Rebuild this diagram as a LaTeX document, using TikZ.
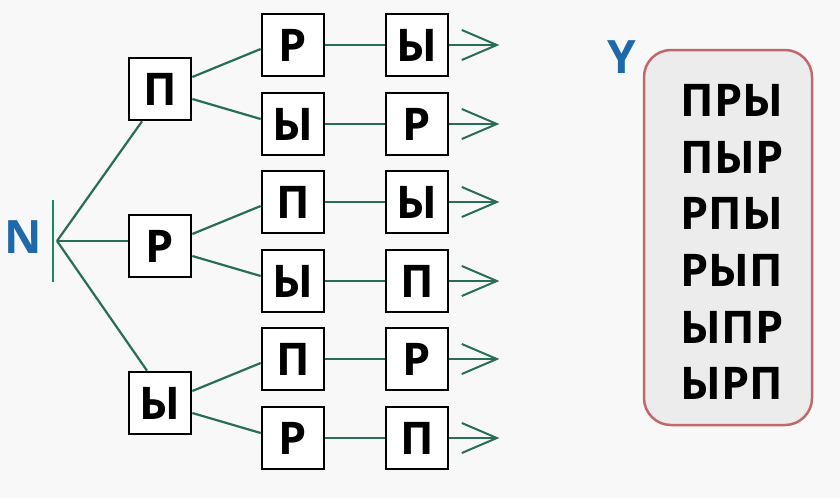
\documentclass[tikz,border=0pt]{standalone}
\usepackage{fontspec}
\setmainfont{Open Sans}
\usetikzlibrary{arrows.meta}
\definecolor{edgegreen}{RGB}{40,110,85}
\definecolor{tickgreen}{RGB}{20,140,95}
\definecolor{lblue}{RGB}{30,105,170}
\definecolor{boxred}{RGB}{192,104,106}
\definecolor{boxfill}{RGB}{236,236,236}
\definecolor{bg}{RGB}{248,248,248}
\tikzset{
  letterbox/.style={draw=black, line width=2.7pt, fill=white, minimum size=62pt, inner sep=0pt, font=\fontsize{45}{45}\selectfont\bfseries},
  conn/.style={draw=edgegreen, line width=2.2pt},
  outarrow/.style={draw=edgegreen, line width=2.2pt, -{Straight Barb[length=35pt,width=30pt,line width=2pt]}},
  varlabel/.style={text=lblue, font=\fontsize{46}{46}\selectfont\bfseries},
  resultline/.style={font=\fontsize{45}{45}\selectfont\bfseries, inner sep=0pt}
}
\begin{document}
\begin{tikzpicture}[x=1pt,y=-1pt]
\fill[bg] (0,0) rectangle (840,498);
\useasboundingbox (0,0) rectangle (840,498);
% N
\node[varlabel] (nlab) at (23,237) {N};
\coordinate (root) at (57,241);
\coordinate (tickt) at (53,200);
\coordinate (tickb) at (53,282);
\draw[draw=tickgreen, line width=2.5pt] (tickt) -- (tickb);
% level 1
\node[letterbox] (p1) at (160,89) {П};
\node[letterbox] (r1) at (160,246) {Р};
\node[letterbox] (y1) at (160,403) {Ы};
% level 2
\node[letterbox] (a1) at (293,45) {Р};
\node[letterbox] (a2) at (293,124) {Ы};
\node[letterbox] (a3) at (293,202) {П};
\node[letterbox] (a4) at (293,281) {Ы};
\node[letterbox] (a5) at (293,359) {П};
\node[letterbox] (a6) at (293,438) {Р};
% level 3
\node[letterbox] (b1) at (417,45) {Ы};
\node[letterbox] (b2) at (417,124) {Р};
\node[letterbox] (b3) at (417,202) {Ы};
\node[letterbox] (b4) at (417,281) {П};
\node[letterbox] (b5) at (417,359) {Р};
\node[letterbox] (b6) at (417,438) {П};
% arrow tips
\foreach \i in {1,...,6} {
  \coordinate (t\i) at ([xshift=50pt]b\i.east);
}
% root edges
\draw[conn] (root) -- ([xshift=-18pt]p1.south);
\draw[conn] (root) -- ([yshift=5pt]r1.west);
\draw[conn] (root) -- ([xshift=-13pt]y1.north);
% level1 -> level2
\draw[conn] ([yshift=12pt]p1.east) -- ([yshift=-4pt]a1.west);
\draw[conn] ([yshift=-10pt]p1.east) -- ([yshift=5pt]a2.west);
\draw[conn] ([yshift=12pt]r1.east) -- ([yshift=-4pt]a3.west);
\draw[conn] ([yshift=-10pt]r1.east) -- ([yshift=5pt]a4.west);
\draw[conn] ([yshift=12pt]y1.east) -- ([yshift=-4pt]a5.west);
\draw[conn] ([yshift=-10pt]y1.east) -- ([yshift=5pt]a6.west);
% level2 -> level3
\foreach \i in {1,...,6} {
  \draw[conn] (a\i.east) -- (b\i.west);
  \draw[outarrow] (b\i.east) -- (t\i);
}
% Y result box
\node[varlabel] (ylab) at (622,57) {Y};
\node[draw=boxred, line width=2.5pt, fill=boxfill, rounded corners=27pt, minimum width=168pt, minimum height=375pt] (res) at (728,237.5) {};
\node[resultline] (w1) at (732,100) {ПРЫ};
\node[resultline] (w2) at (732,157) {ПЫР};
\node[resultline] (w3) at (732,213) {РПЫ};
\node[resultline] (w4) at (732,270) {РЫП};
\node[resultline] (w5) at (732,327) {ЫПР};
\node[resultline] (w6) at (732,383) {ЫРП};
\end{tikzpicture}
\end{document}
